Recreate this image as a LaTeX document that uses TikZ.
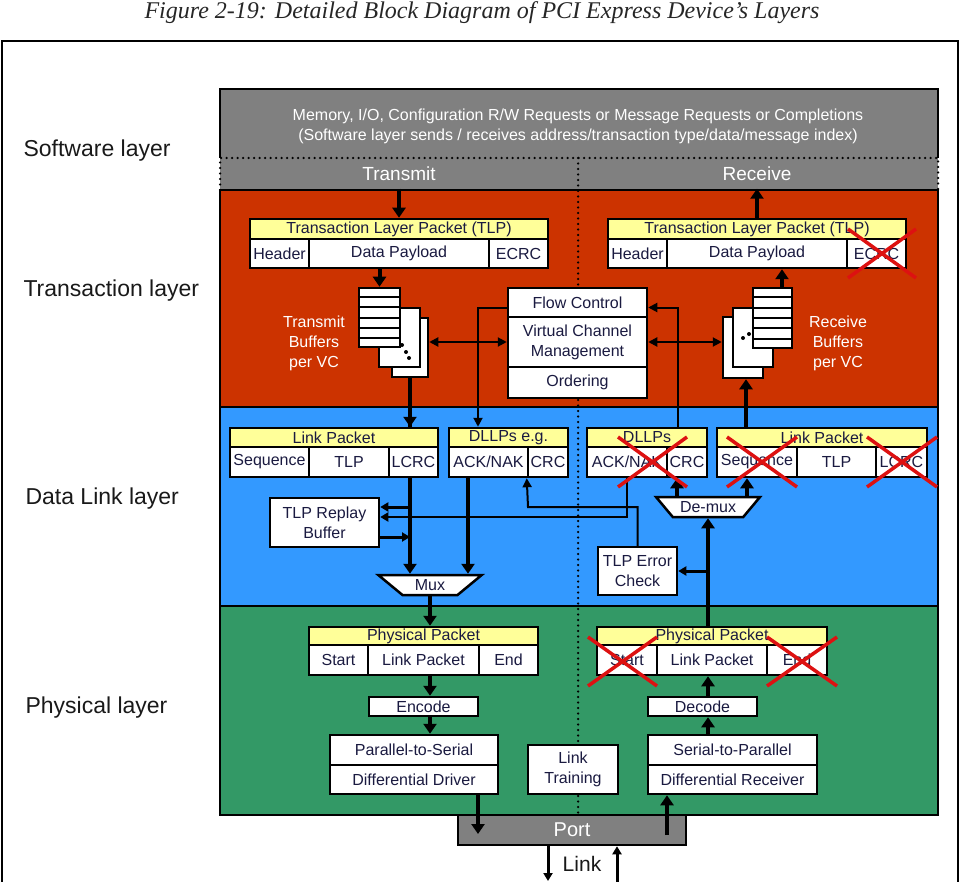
\documentclass[tikz,border=0pt]{standalone}
\usepackage{fontspec}
\setmainfont{Liberation Sans}
\newfontfamily\titlefont{Liberation Serif}
\usetikzlibrary{arrows.meta,shapes.geometric,calc}
\definecolor{swgray}{HTML}{808080}
\definecolor{tlred}{HTML}{CC3300}
\definecolor{dlblue}{HTML}{3399FF}
\definecolor{plgreen}{HTML}{339966}
\definecolor{pktyellow}{HTML}{FFFF99}
\definecolor{txtc}{HTML}{1A1A40}
\definecolor{xred}{HTML}{DD1111}
% generic rectangle node from corner coordinates
\newcommand\rbx[7][]{%
  \pgfmathsetmacro\bxw{#5-#3}\pgfmathsetmacro\bxh{#6-#4}%
  \pgfmathsetmacro\bxx{(#3+#5)/2}\pgfmathsetmacro\bxy{(#4+#6)/2}%
  \node[inner sep=0pt,minimum width=\bxw pt,minimum height=\bxh pt,#1] (#2) at (\bxx,\bxy) {#7};}
\newcommand\bx[7][]{\rbx[cellbox,#1]{#2}{#3}{#4}{#5}{#6}{#7}}
\begin{document}
\begin{tikzpicture}[x=1pt,y=-1pt,
  cellbox/.style={draw=black,line width=2.5pt,fill=white,text=txtc,align=center,font=\fontsize{16}{20}\selectfont},
  hdr/.style={fill=pktyellow},
  layer/.style={draw=black,line width=2.5pt},
  bigarr/.style={line width=4pt,-{Triangle[width=13pt,length=10pt]}},
  midarr/.style={line width=3pt,-{Triangle[width=9pt,length=8pt]}},
  thinarr/.style={line width=2pt,-{Triangle[width=9pt,length=9pt]}},
  dblarr/.style={line width=2pt,{Triangle[width=9pt,length=9pt]}-{Triangle[width=9pt,length=9pt]}},
  cross/.style={draw=xred,line width=3.5pt},
  lbl/.style={anchor=west,font=\fontsize{23}{27}\selectfont,text=black!90},
  wlbl/.style={text=white,align=center},
  trap/.style={trapezium,shape border rotate=180,trapezium stretches=true,minimum width=104pt,minimum height=20pt,trapezium left angle=40,trapezium right angle=40,draw=black,line width=2.5pt,fill=white,inner sep=0pt,text=txtc,font=\fontsize{16}{20}\selectfont},
  dotline/.style={line width=2.5pt,dash pattern=on 0pt off 5.5pt,line cap=round}
]
\useasboundingbox (0,0) rectangle (960,882);

% title and frame
\node[font=\titlefont\itshape\fontsize{24}{28}\selectfont,text=black!85] (title) at (482,13) {Figure 2-19: Detailed Block Diagram of PCI Express Device’s Layers};
\draw[line width=1.5pt] (2,885) -- (2,41) -- (958,41) -- (958,885);

% layers
\rbx[fill=swgray]{sw}{220}{89}{938}{190}{}
\draw[line width=2.5pt] (220,158) -- (220,89) -- (938,89) -- (938,158);
\rbx[layer,fill=tlred]{tl}{220}{190}{938}{407}{}
\rbx[layer,fill=dlblue]{dl}{220}{407}{938}{606}{}
\rbx[layer,fill=plgreen]{pl}{220}{606}{938}{815}{}
\draw[dotline] (220,190) -- (220,158) -- (938,158) -- (938,190);
\draw[dotline] (578,158) -- (578,815);
\rbx[fill=swgray,draw=black,line width=2.5pt,text=white,font=\fontsize{20}{24}\selectfont]{port}{458}{815}{686}{845}{Port}

% layer labels
\node[lbl] (lsw) at (20,151) {Software layer};
\node[lbl] (ltl) at (20,291) {Transaction layer};
\node[lbl] (ldl) at (22,499) {Data Link layer};
\node[lbl] (lpl) at (22,708) {Physical layer};

% software layer texts
\node[wlbl,font=\fontsize{16}{20}\selectfont] (swtext) at (578,126) {Memory, I/O, Configuration R/W Requests or Message Requests or Completions\\(Software layer sends / receives address/transaction type/data/message index)};
\node[wlbl,font=\fontsize{19}{22}\selectfont] (txstrip) at (399,174) {Transmit};
\node[wlbl,font=\fontsize{19}{22}\selectfont] (rxstrip) at (757,174) {Receive};

% transaction layer
\bx[hdr]{txtlp}{250}{219}{548}{239}{Transaction Layer Packet (TLP)}
\bx{txhdr}{250}{239}{309}{268}{Header}
\bx{txpay}{309}{239}{489}{268}{Data Payload}
\bx{txecrc}{489}{239}{548}{268}{ECRC}
\bx[hdr]{rxtlp}{608}{219}{906}{239}{Transaction Layer Packet (TLP)}
\bx{rxhdr}{608}{239}{667}{268}{Header}
\bx{rxpay}{667}{239}{847}{268}{Data Payload}
\bx{rxecrc}{847}{239}{906}{268}{ECRC}
\bx{fc}{508}{288}{647}{317}{Flow Control}
\bx{vcm}{508}{317}{647}{367}{Virtual Channel\\Management}
\bx{ord}{508}{367}{647}{398}{Ordering}

\bx{txb3}{392}{318}{428}{377}{}
\bx{txb2}{379}{308}{420}{367}{}
\bx{txb1}{359}{288}{400}{347}{}
\foreach \i in {1,...,5}
  \draw[line width=2pt] ($(txb1.north west)!\i/6!(txb1.south west)$) -- ($(txb1.north east)!\i/6!(txb1.south east)$);
\fill (402,345) circle (2pt) (406,352) circle (2pt) (409,358) circle (2pt);
\node[wlbl,font=\fontsize{16}{20}\selectfont] (txbuflbl) at (314,343) {Transmit\\Buffers\\per VC};

\bx{rxb3}{723}{317}{763}{378}{}
\bx{rxb2}{733}{308}{773}{367}{}
\bx{rxb1}{753}{288}{792}{348}{}
\foreach \i in {1,...,5}
  \draw[line width=2pt] ($(rxb1.north west)!\i/6!(rxb1.south west)$) -- ($(rxb1.north east)!\i/6!(rxb1.south east)$);
\fill (743,338) circle (2pt) (749,334) circle (2pt);
\node[wlbl,font=\fontsize{16}{20}\selectfont] (rxbuflbl) at (838,343) {Receive\\Buffers\\per VC};

% data link layer
\bx[hdr]{txlp}{230}{428}{438}{447}{Link Packet}
\bx{txseq}{230}{447}{309}{477}{Sequence}
\bx{txtlpc}{309}{447}{389}{477}{TLP}
\bx{txlcrc}{389}{447}{438}{477}{LCRC}
\bx[hdr]{txdl}{449}{428}{568}{447}{DLLPs e.g.}
\bx{txack}{449}{447}{528}{477}{ACK/NAK}
\bx{txcrc}{528}{447}{568}{477}{CRC}
\bx[hdr]{rxdl}{587}{428}{707}{447}{DLLPs}
\bx{rxack}{587}{447}{667}{477}{ACK/NAK}
\bx{rxcrc}{667}{447}{707}{477}{CRC}
\bx[hdr]{rxlp}{717}{428}{927}{447}{Link Packet}
\bx{rxseq}{717}{447}{797}{477}{Sequence}
\bx{rxtlpc}{797}{447}{876}{477}{TLP}
\bx{rxlcrc}{876}{447}{927}{477}{LCRC}
\bx{replay}{270}{498}{379}{547}{TLP Replay\\Buffer}
\bx{errchk}{598}{547}{677}{595}{TLP Error\\Check}
\node[trap] (mux) at (430,585) {Mux};
\node[trap] (demux) at (708,507) {De-mux};

% physical layer
\bx[hdr]{txpp}{309}{627}{538}{645}{Physical Packet}
\bx{txstart}{309}{645}{368}{675}{Start}
\bx{txlpk}{368}{645}{479}{675}{Link Packet}
\bx{txend}{479}{645}{538}{675}{End}
\bx{enc}{369}{697}{478}{716}{Encode}
\bx{p2s}{330}{735}{498}{765}{Parallel-to-Serial}
\bx{drv}{330}{765}{498}{794}{Differential Driver}
\bx{lt}{528}{745}{618}{794}{Link\\Training}
\bx[hdr]{rxpp}{597}{627}{827}{645}{Physical Packet}
\bx{rxstart}{597}{645}{657}{675}{Start}
\bx{rxlpk}{657}{645}{767}{675}{Link Packet}
\bx{rxend}{767}{645}{827}{675}{End}
\bx{dec}{648}{697}{757}{716}{Decode}
\bx{s2p}{648}{735}{817}{765}{Serial-to-Parallel}
\bx{rcv}{648}{765}{817}{794}{Differential Receiver}

% connectors: transaction layer
\draw[bigarr] (tl.north -| txtlp.north) -- (txtlp.north);
\draw[bigarr] (txb1.north |- txpay.south) -- (txb1.north);
\draw[bigarr] (rxtlp.north) -- (rxtlp.north |- tl.north);
\draw[bigarr] ([xshift=9.5pt]rxb1.north) -- ([xshift=9.5pt]rxb1.north |- rxpay.south);
\draw[dblarr] (txb3.east |- vcm.west) -- (vcm.west);
\draw[dblarr] (vcm.east) -- (rxb3.west |- vcm.east);
\draw[thinarr] ([yshift=-5pt]fc.west) -| ([xshift=-30.5pt]txdl.north);
\draw[thinarr] ([xshift=31pt]rxdl.north) |- ([yshift=-5pt]fc.east);

% connectors: data link layer
\draw[line width=4pt] (txb3.south) -- (txb3.south |- txlp.north);
\draw[bigarr] (txb3.south |- dl.north) -- (txb3.south |- txlp.north);
\draw[bigarr] ([xshift=3pt]rxb3.south |- rxlp.north) -- ([xshift=3pt]rxb3.south);
\draw[line width=2pt,-{Triangle[width=9pt,length=8pt]}] (rxack.south) |- ([yshift=5.5pt]replay.east);
\draw[midarr] ([yshift=15.5pt]replay.east -| txb3.south) -- ([yshift=15.5pt]replay.east);
\draw[midarr] ([yshift=-14.5pt]replay.east) -- ([yshift=-14.5pt]replay.east -| txb3.south);
\coordinate (ecturn) at (528,507);
\draw[thinarr] (errchk.north) |- (ecturn) -- (txcrc.south west);
\draw[bigarr] (txb3.south |- txlcrc.south) -- (txb3.south |- mux.north);
\draw[bigarr] ([xshift=-20.5pt]txack.south) -- ([xshift=-20.5pt]txack.south |- mux.north);
\draw[bigarr] (demux.south |- rxpp.north) -- (demux.south);
\draw[midarr] (demux.south |- errchk.east) -- (errchk.east);
\draw[bigarr] ([xshift=-10pt]rxcrc.south |- demux.north) -- ([xshift=-10pt]rxcrc.south);
\draw[bigarr] ([xshift=-10pt]rxseq.south |- demux.north) -- ([xshift=-10pt]rxseq.south);

% connectors: physical layer
\draw[bigarr] (mux.south) -- (mux.south |- txpp.north);
\draw[bigarr] (mux.south |- txlpk.south) -- (mux.south |- enc.north);
\draw[bigarr] (mux.south |- enc.south) -- (mux.south |- p2s.north);
\draw[bigarr] (demux.south |- dec.north) -- (demux.south |- rxlpk.south);
\draw[bigarr] (demux.south |- s2p.north) -- (demux.south |- dec.south);
\coordinate (txportend) at (478,834);
\draw[bigarr] (drv.south -| txportend) -- (txportend);
\coordinate (rxportstart) at (667,835);
\draw[bigarr] (rxportstart) -- (rxportstart |- rcv.south);
\coordinate (linkdn) at (548,881);
\draw[midarr] (port.south -| linkdn) -- (linkdn);
\coordinate (linkup) at (617,884);
\draw[midarr] (linkup) -- (port.south -| linkup);
\node[font=\fontsize{21}{25}\selectfont,text=black!90] (linktxt) at (582,864) {Link};

% red crosses
\draw[cross] (848,229) -- (916,278) (848,278) -- (916,229);
\draw[cross] (618,437) -- (687,487) (618,487) -- (687,437);
\draw[cross] (727,437) -- (797,487) (727,487) -- (797,437);
\draw[cross] (867,437) -- (937,487) (867,487) -- (937,437);
\draw[cross] (588,637) -- (657,686) (588,686) -- (657,637);
\draw[cross] (767,637) -- (837,686) (767,686) -- (837,637);
\end{tikzpicture}
\end{document}
